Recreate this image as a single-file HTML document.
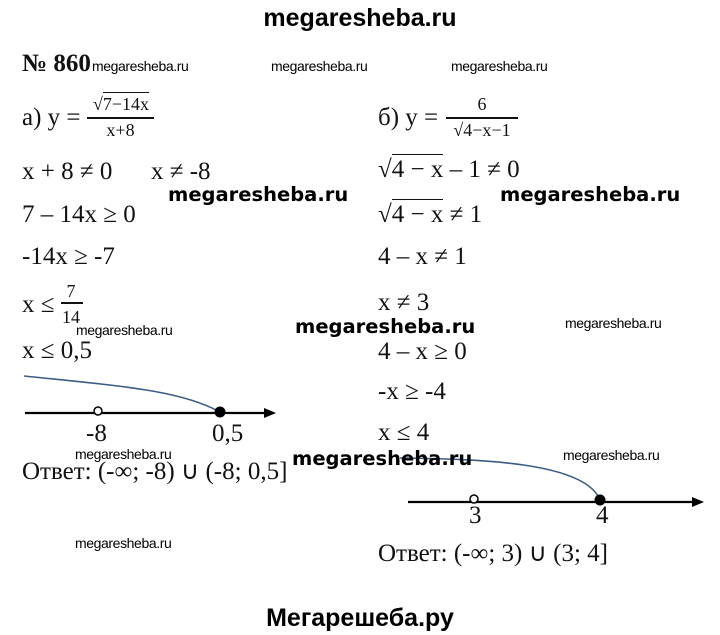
<!DOCTYPE html>
<html><head><meta charset="utf-8"><style>
body{margin:0;background:#fff;width:720px;height:635px;position:relative;overflow:hidden;color:#111}
.t{position:absolute;font-family:"Liberation Serif",serif;font-size:25px;line-height:26px;white-space:nowrap}
.w{position:absolute;font-family:"Liberation Sans",sans-serif;font-size:14px;line-height:16px;white-space:nowrap;letter-spacing:-0.4px;color:#000}
.b{position:absolute;font-family:"DejaVu Sans","Liberation Sans",sans-serif;font-weight:bold;font-size:19.5px;line-height:22px;white-space:nowrap;color:#000}
.h{position:absolute;left:0;width:720px;text-align:center;font-family:"Liberation Sans",sans-serif;font-weight:bold;font-size:25px;line-height:28px;color:#000}
.ov{border-top:1.5px solid #111;padding-top:1px}
.s{position:absolute;font-family:"Liberation Serif",serif;font-size:18px;line-height:18px;white-space:nowrap;text-align:center}
.bar{position:absolute;height:2px;background:#111}
</style></head><body>
<div class="h" style="top:4px">megaresheba.ru</div>
<div class="h" style="top:604px">Мегарешеба.ру</div>

<div class="t" style="left:22px;top:51px;font-weight:bold">№ 860</div>
<div class="w" style="left:92px;top:58px">megaresheba.ru</div>
<div class="w" style="left:271px;top:58px">megaresheba.ru</div>
<div class="w" style="left:451px;top:58px">megaresheba.ru</div>

<!-- a -->
<div class="t" style="left:22px;top:105px">а) y =</div>
<div class="s" style="left:87px;top:95px;width:68px">√<span class="ov">7−14x</span></div>
<div class="bar" style="left:87px;top:117px;width:67px"></div>
<div class="s" style="left:87px;top:121px;width:67px">x+8</div>
<div class="t" style="left:22px;top:159px">x + 8 ≠ 0</div>
<div class="t" style="left:151px;top:159px">x ≠ -8</div>
<div class="b" style="left:168px;top:184px">megaresheba.ru</div>
<div class="t" style="left:22px;top:202px">7 – 14x ≥ 0</div>
<div class="t" style="left:22px;top:244px">-14x ≥ -7</div>
<div class="t" style="left:22px;top:292px">x ≤</div>
<div class="s" style="left:59px;top:282px;width:24px">7</div>
<div class="bar" style="left:61px;top:302px;width:22px"></div>
<div class="s" style="left:59px;top:308px;width:24px">14</div>
<div class="w" style="left:76px;top:322px">megaresheba.ru</div>
<div class="b" style="left:295px;top:316px">megaresheba.ru</div>
<div class="w" style="left:565px;top:315px">megaresheba.ru</div>
<div class="t" style="left:22px;top:338px">x ≤ 0,5</div>

<svg style="position:absolute;left:0;top:0" width="720" height="635">
<path d="M24 376 C120 386 180 390 220 412" fill="none" stroke="#3b5c85" stroke-width="1.6"/>
<line x1="25" y1="413" x2="268" y2="413" stroke="#000" stroke-width="2.2"/>
<polygon points="276,413 264,408 264,418" fill="#000"/>
<circle cx="98" cy="411" r="4" fill="#fff" stroke="#000" stroke-width="1.5"/>
<circle cx="220" cy="412" r="5.5" fill="#000"/>
<path d="M400 458 C480 459 585 462 600 500" fill="none" stroke="#3b5c85" stroke-width="1.6"/>
<line x1="408" y1="502" x2="696" y2="502" stroke="#000" stroke-width="2.2"/>
<polygon points="704,502 692,497 692,507" fill="#000"/>
<circle cx="474" cy="499" r="4" fill="#fff" stroke="#000" stroke-width="1.5"/>
<circle cx="600" cy="500" r="5.5" fill="#000"/>
</svg>
<div class="t" style="left:86px;top:421px">-8</div>
<div class="t" style="left:212px;top:421px">0,5</div>
<div class="w" style="left:75px;top:446px">megaresheba.ru</div>
<div class="t" style="left:22px;top:459px">Ответ: (-∞; -8) ∪ (-8; 0,5]</div>
<div class="b" style="left:292px;top:448px">megaresheba.ru</div>
<div class="w" style="left:563px;top:447px">megaresheba.ru</div>
<div class="w" style="left:75px;top:535px">megaresheba.ru</div>

<!-- b -->
<div class="t" style="left:378px;top:105px">б) y =</div>
<div class="s" style="left:446px;top:95px;width:72px">6</div>
<div class="bar" style="left:446px;top:117px;width:72px"></div>
<div class="s" style="left:446px;top:121px;width:72px">√<span class="ov">4−x</span>−1</div>
<div class="t" style="left:378px;top:157px">√<span class="ov">4 − x</span> – 1 ≠ 0</div>
<div class="b" style="left:500px;top:184px">megaresheba.ru</div>
<div class="t" style="left:378px;top:202px">√<span class="ov">4 − x</span> ≠ 1</div>
<div class="t" style="left:378px;top:244px">4 – x ≠ 1</div>
<div class="t" style="left:378px;top:290px">x ≠ 3</div>
<div class="t" style="left:378px;top:339px">4 – x ≥ 0</div>
<div class="t" style="left:378px;top:379px">-x ≥ -4</div>
<div class="t" style="left:378px;top:420px">x ≤ 4</div>
<div class="t" style="left:469px;top:503px">3</div>
<div class="t" style="left:596px;top:503px">4</div>
<div class="t" style="left:378px;top:541px">Ответ: (-∞; 3) ∪ (3; 4]</div>
</body></html>
